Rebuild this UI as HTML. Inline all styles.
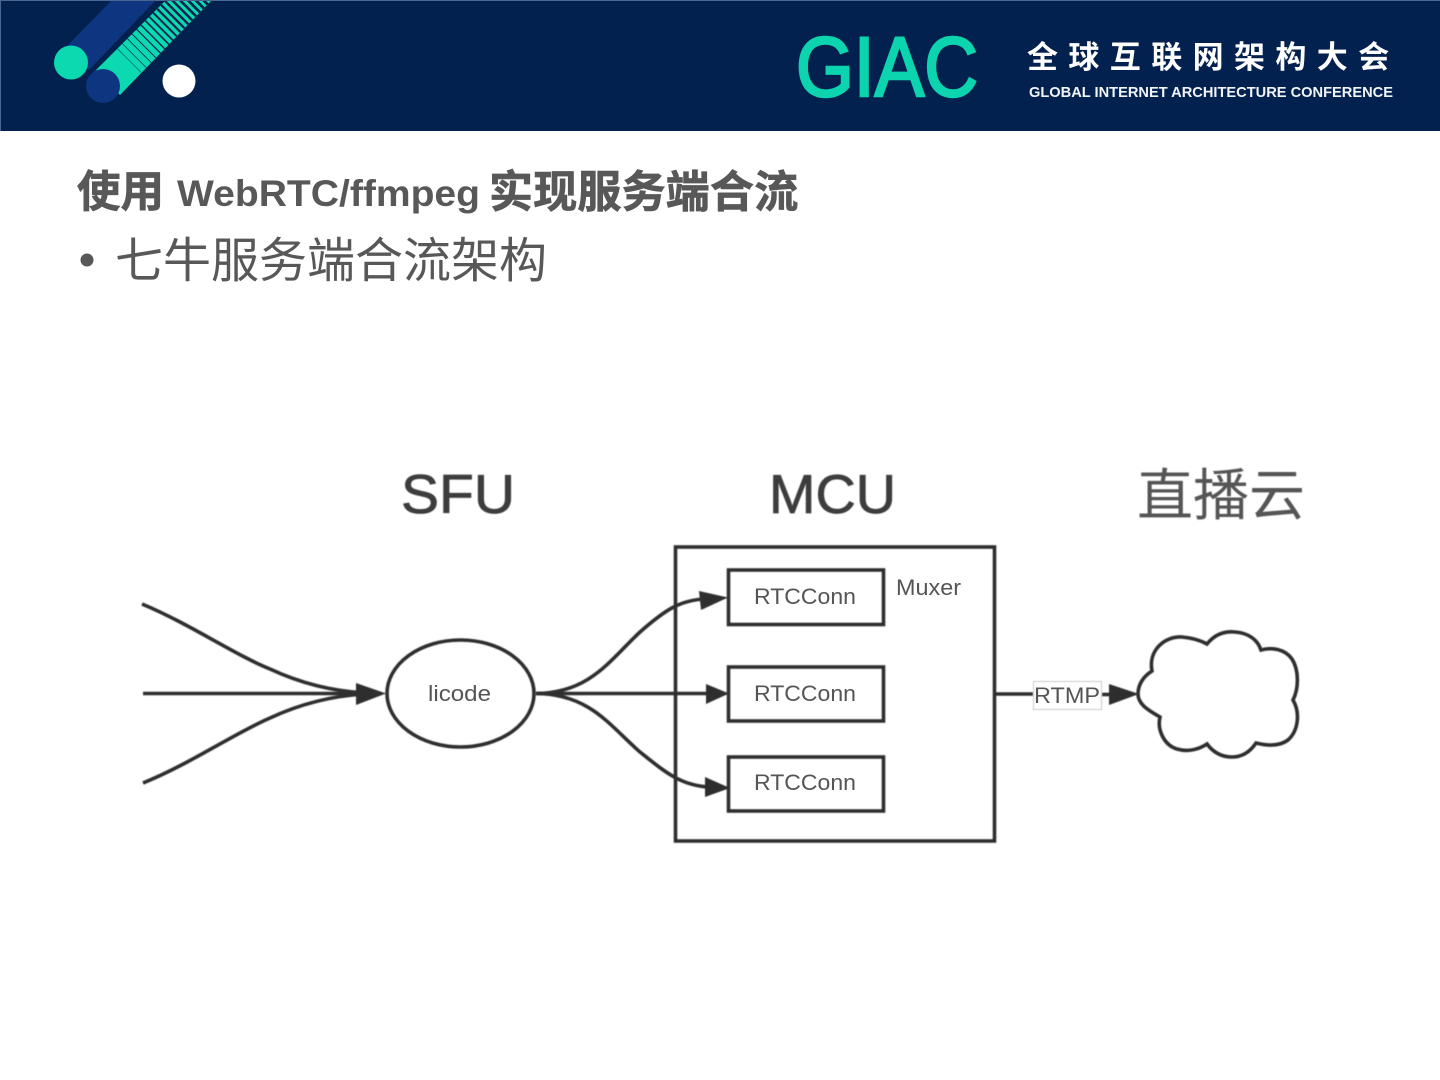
<!DOCTYPE html>
<html lang="zh">
<head>
<meta charset="utf-8">
<title>GIAC</title>
<style>
html,body{margin:0;padding:0;background:#fff;width:1440px;height:1080px;overflow:hidden}
svg{display:block}
.cjk{font-family:"Liberation Sans","Noto Sans CJK SC",sans-serif}
.lbl{font-family:"Liberation Sans",sans-serif;fill:#555;font-size:22px}
.s{fill:none;stroke:#2e2e2e;stroke-width:3.6}
</style>
</head>
<body>
<svg width="1440" height="1080" viewBox="0 0 1440 1080" xmlns="http://www.w3.org/2000/svg">
<defs>
<filter id="b" x="-5%" y="-5%" width="110%" height="110%"><feGaussianBlur stdDeviation="0.55"/></filter>
<filter id="b2" x="-5%" y="-5%" width="110%" height="110%"><feGaussianBlur stdDeviation="0.3"/></filter>
<clipPath id="tb"><polygon points="95,71 165,1 211,1 120,95"/></clipPath>
</defs>
<rect width="1440" height="131" fill="#03214f"/>
<rect width="1440" height="1" fill="#4a6590"/>
<rect width="1" height="131" fill="#4a6590"/>
<g filter="url(#b2)">
<polygon points="68,45 111,1 155,1 89,70" fill="#0a3480"/>
<polygon points="95,71 165,1 211,1 120,95" fill="#0cd9b0"/>
<g clip-path="url(#tb)"><g transform="translate(103,87) rotate(-45)" fill="#03214f">
<rect x="37" y="-30" width="0.5" height="60"/><rect x="44" y="-30" width="0.6" height="60"/>
<rect x="51" y="-30" width="0.8" height="60"/><rect x="57.500" y="-30" width="1" height="60"/>
<rect x="64" y="-30" width="1.2" height="60"/><rect x="70" y="-30" width="1.400" height="60"/>
<rect x="76" y="-30" width="1.600" height="60"/><rect x="81.500" y="-30" width="1.800" height="60"/>
<rect x="87" y="-30" width="2" height="60"/><rect x="92.500" y="-30" width="2.200" height="60"/>
<rect x="98" y="-30" width="2.300" height="60"/><rect x="103.500" y="-30" width="2.400" height="60"/>
<rect x="109" y="-30" width="2.500" height="60"/><rect x="114.500" y="-30" width="2.600" height="60"/>
<rect x="120" y="-30" width="2.700" height="60"/><rect x="125.500" y="-30" width="2.800" height="60"/>
<rect x="131" y="-30" width="2.800" height="60"/><rect x="136.500" y="-30" width="2.800" height="60"/>
<rect x="142" y="-30" width="2.800" height="60"/><rect x="147.500" y="-30" width="2.800" height="60"/>
<rect x="153" y="-30" width="2.800" height="60"/>
</g></g>
<circle cx="71" cy="62.500" r="17" fill="#0cd9b0"/>
<circle cx="103" cy="86" r="17" fill="#0a3480"/>
<circle cx="179" cy="81" r="16.500" fill="#fff"/>
</g>
<text x="796" y="96" font-family="Liberation Sans,sans-serif" font-size="84" fill="#0cd4ae" stroke="#0cd4ae" stroke-width="2.500" textLength="182" lengthAdjust="spacingAndGlyphs">GIAC</text>
<text class="cjk" x="1027" y="68" font-size="31" font-weight="700" fill="#fff" letter-spacing="10.400">全球互联网架构大会</text>
<text x="1029" y="97" font-family="Liberation Sans,sans-serif" font-size="15" font-weight="700" fill="#f2f5f8" textLength="364" lengthAdjust="spacingAndGlyphs">GLOBAL INTERNET ARCHITECTURE CONFERENCE</text>
<g fill="#595959" filter="url(#b2)">
<text class="cjk" x="77" y="207" font-size="43.500" font-weight="700" stroke="#595959" stroke-width="0.7">使用</text>
<text x="177" y="206" font-family="Liberation Sans,sans-serif" font-size="37" font-weight="700" textLength="303" lengthAdjust="spacingAndGlyphs">WebRTC/ffmpeg</text>
<text class="cjk" x="489" y="207" font-size="44" font-weight="700" letter-spacing="0.2" stroke="#595959" stroke-width="0.7">实现服务端合流</text>
<circle cx="87" cy="260" r="6.500"/>
<text class="cjk" x="115" y="277" font-size="48">七牛服务端合流架构</text>
</g>
<g filter="url(#b)">
<text x="401" y="513" font-family="Liberation Sans,sans-serif" font-size="55" fill="#3c3c3c" stroke="#3c3c3c" stroke-width="0.8" textLength="114" lengthAdjust="spacingAndGlyphs">SFU</text>
<text x="769" y="513" font-family="Liberation Sans,sans-serif" font-size="55" fill="#3c3c3c" stroke="#3c3c3c" stroke-width="0.8" textLength="127" lengthAdjust="spacingAndGlyphs">MCU</text>
<text class="cjk" x="1137" y="515" font-size="56" fill="#555">直播云</text>
<rect class="s" x="675.500" y="547" width="319" height="294"/>
<rect class="s" x="728.500" y="570" width="155" height="54.500"/>
<rect class="s" x="728.500" y="667" width="155" height="54"/>
<rect class="s" x="728.500" y="757" width="155" height="54"/>
<ellipse class="s" cx="460.500" cy="693.500" rx="73.500" ry="53.500"/>
<path class="s" d="M142,604 C190,624 235,655 270,669 C300,683 330,691 365,693"/>
<path class="s" d="M143,693.500 H365" stroke-width="4"/>
<path class="s" d="M143,783 C190,764 235,733 270,718 C300,704 330,696 365,694"/>
<polygon points="386,693.500 356,683 356,705" fill="#2e2e2e"/>
<path class="s" d="M536,693.500 C590,693 610,660 640,632 C665,610 680,600 705,599"/>
<path class="s" d="M536,693.500 H710"/>
<path class="s" d="M536,693.500 C590,694 610,726 640,752 C665,772 680,785 708,787"/>
<polygon points="728,597.500 699,591 701,610" fill="#2e2e2e"/>
<polygon points="729,693.500 706,684 706,704" fill="#2e2e2e"/>
<polygon points="730,788 705,777 705,797" fill="#2e2e2e"/>
<path class="s" d="M994,694 H1033"/>
<path class="s" d="M1102,694.500 H1115"/>
<polygon points="1139,694 1109,684 1109,705" fill="#2e2e2e"/>
<path class="s" d="M1138,694 C1138,684 1144,676 1152,671 C1148,650 1165,636 1182,637 C1192,638 1200,640 1207,644 C1215,634 1225,631 1235,632 C1250,633 1258,641 1261,650 C1272,647 1285,649 1292,659 C1299,670 1299,688 1293,700 C1300,712 1299,730 1288,740 C1280,746 1268,746 1256,743 C1250,752 1242,757 1232,757 C1221,757 1213,752 1207,744 C1198,750 1187,752 1177,749 C1164,745 1157,730 1160,717 C1150,711 1138,705 1138,694 Z" fill="#fff"/>
<rect x="1033.500" y="681.500" width="68" height="28" fill="#fff" stroke="#c8c8c8" stroke-width="1"/>
</g>
<g filter="url(#b2)">
<text class="lbl" x="1034" y="703" textLength="66" lengthAdjust="spacingAndGlyphs">RTMP</text>
<text class="lbl" x="754" y="604" textLength="102" lengthAdjust="spacingAndGlyphs">RTCConn</text>
<text class="lbl" x="754" y="701" textLength="102" lengthAdjust="spacingAndGlyphs">RTCConn</text>
<text class="lbl" x="754" y="790" textLength="102" lengthAdjust="spacingAndGlyphs">RTCConn</text>
<text class="lbl" x="896" y="595" textLength="65" lengthAdjust="spacingAndGlyphs">Muxer</text>
<text class="lbl" x="428" y="701" textLength="63" lengthAdjust="spacingAndGlyphs">licode</text>
</g>
</svg>
</body>
</html>
